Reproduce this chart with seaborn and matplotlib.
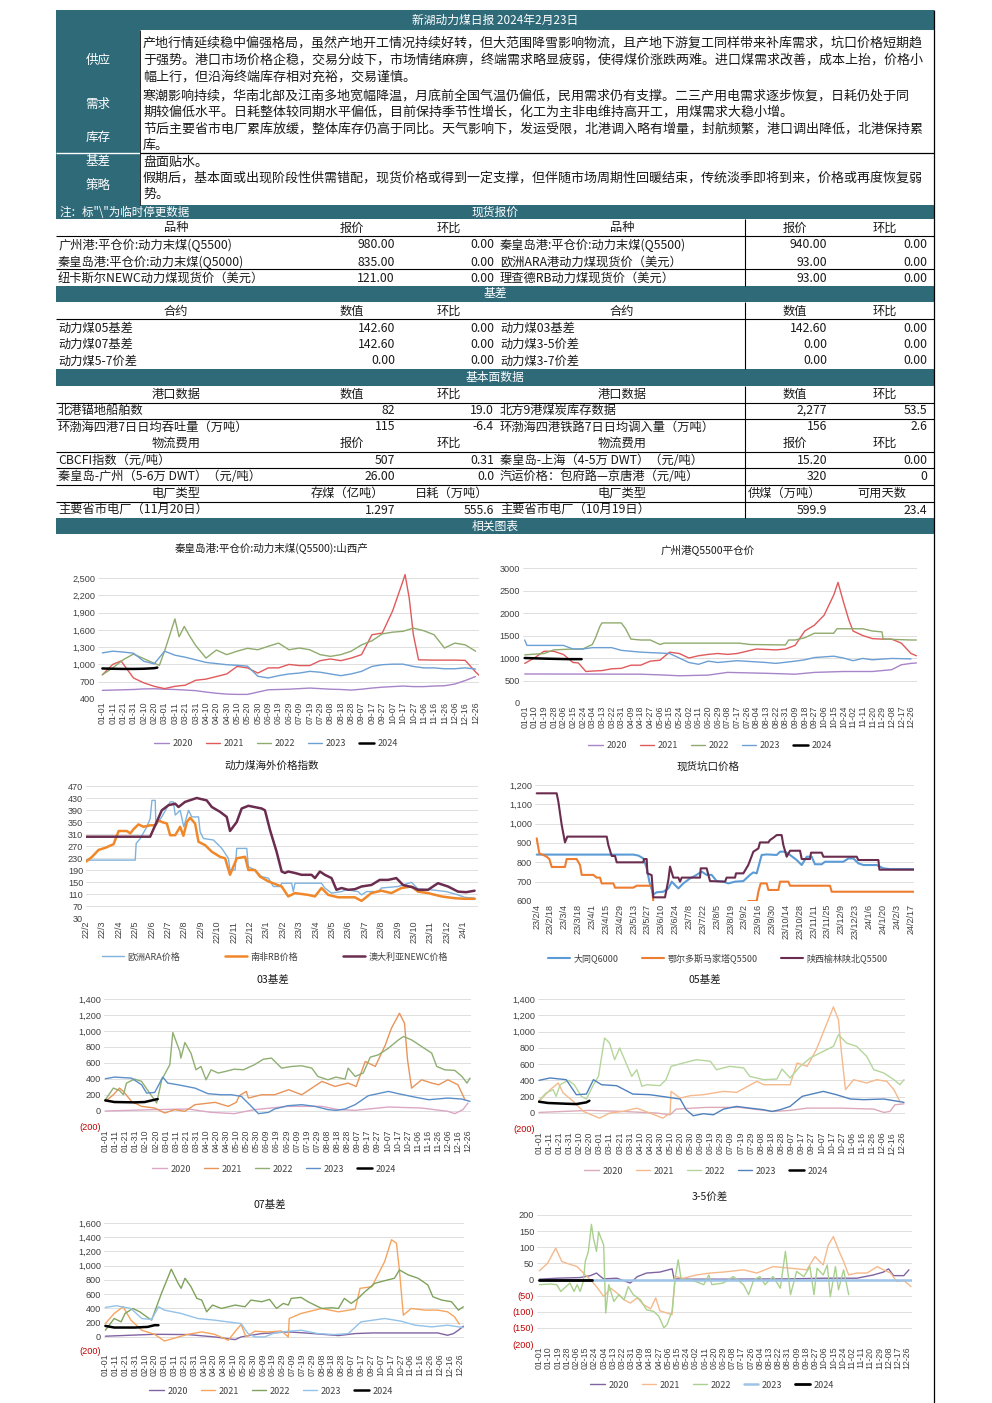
import matplotlib
matplotlib.use('Agg')
import matplotlib.pyplot as plt
import seaborn as sns
import pandas as pd
from matplotlib.lines import Line2D

# ------------------------------------------------------------------ text
report_title = '新湖动力煤日报 2024年2月23日'
side_labels = ['供应', '需求', '库存', '基差', '策略']
para_lines = [
    '产地行情延续稳中偏强格局，虽然产地开工情况持续好转，但大范围降雪影响物流，且产地下游复工同样带来补库需求，坑口价格短期趋',
    '于强势。港口市场价格企稳，交易分歧下，市场情绪麻痹，终端需求略显疲弱，使得煤价涨跌两难。进口煤需求改善，成本上抬，价格小',
    '幅上行，但沿海终端库存相对充裕，交易谨慎。',
    '寒潮影响持续，华南北部及江南多地宽幅降温，月底前全国气温仍偏低，民用需求仍有支撑。二三产用电需求逐步恢复，日耗仍处于同',
    '期较偏低水平。日耗整体较同期水平偏低，目前保持季节性增长，化工为主非电维持高开工，用煤需求大稳小增。',
    '节后主要省市电厂累库放缓，整体库存仍高于同比。天气影响下，发运受限，北港调入略有增量，封航频繁，港口调出降低，北港保持累',
    '库。',
    '盘面贴水。',
    '假期后，基本面或出现阶段性供需错配，现货价格或得到一定支撑，但伴随市场周期性回暖结束，传统淡季即将到来，价格或再度恢复弱',
    '势。',
]
note_text = '注：标"\\"为临时停更数据'
section_titles = ['现货报价', '基差', '基本面数据', '相关图表']

spot_header = ['品种', '报价', '环比', '品种', '报价', '环比']
spot_rows = [
    ['广州港:平仓价:动力末煤(Q5500)', '980.00', '0.00', '秦皇岛港:平仓价:动力末煤(Q5500)', '940.00', '0.00'],
    ['秦皇岛港:平仓价:动力末煤(Q5000)', '835.00', '0.00', '欧洲ARA港动力煤现货价（美元）', '93.00', '0.00'],
    ['纽卡斯尔NEWC动力煤现货价（美元）', '121.00', '0.00', '理查德RB动力煤现货价（美元）', '93.00', '0.00'],
]
basis_header = ['合约', '数值', '环比', '合约', '数值', '环比']
basis_rows = [
    ['动力煤05基差', '142.60', '0.00', '动力煤03基差', '142.60', '0.00'],
    ['动力煤07基差', '142.60', '0.00', '动力煤3-5价差', '0.00', '0.00'],
    ['动力煤5-7价差', '0.00', '0.00', '动力煤3-7价差', '0.00', '0.00'],
]
port_header = ['港口数据', '数值', '环比', '港口数据', '数值', '环比']
port_rows = [
    ['北港锚地船舶数', '82', '19.0', '北方9港煤炭库存数据', '2,277', '53.5'],
    ['环渤海四港7日日均吞吐量（万吨）', '115', '-6.4', '环渤海四港铁路7日日均调入量（万吨）', '156', '2.6'],
]
logi_header = ['物流费用', '报价', '环比', '物流费用', '报价', '环比']
logi_rows = [
    ['CBCFI指数（元/吨）', '507', '0.31', '秦皇岛-上海（4-5万 DWT）（元/吨）', '15.20', '0.00'],
    ['秦皇岛-广州（5-6万 DWT）（元/吨）', '26.00', '0.0', '汽运价格：包府路—京唐港（元/吨）', '320', '0'],
]
plant_header = ['电厂类型', '存煤（亿吨）', '日耗（万吨）', '电厂类型', '供煤（万吨）', '可用天数']
plant_rows = [
    ['主要省市电厂（11月20日）', '1.297', '555.6', '主要省市电厂（10月19日）', '599.9', '23.4'],
]

# ------------------------------------------------------------------ chart titles / legends
chart_titles = ['秦皇岛港:平仓价:动力末煤(Q5500):山西产', '广州港Q5500平仓价', '动力煤海外价格指数',
                '现货坑口价格', '03基差', '05基差', '07基差', '3-5价差']
years = ['2020', '2021', '2022', '2023', '2024']
intl_names = ['欧洲ARA价格', '南非RB价格', '澳大利亚NEWC价格']
mine_names = ['大同Q6000', '鄂尔多斯马家塔Q5500', '陕西榆林陕北Q5500']

# ------------------------------------------------------------------ tick labels
base_leap = pd.Timestamp('2024-01-01')
tick10_days = list(range(0, 361, 10))
tick10_labels = [(base_leap + pd.Timedelta(days=d)).strftime('%m-%d') for d in tick10_days]
tick9_days = list(range(0, 361, 9))
tick9_labels = [(base_leap + pd.Timedelta(days=d)).strftime('%m-%d') for d in tick9_days]
intl_tick_labels = ['22/2', '22/3', '22/4', '22/5', '22/6', '22/7', '22/8', '22/9', '22/10', '22/11', '22/12',
                    '23/1', '23/2', '23/3', '23/4', '23/5', '23/6', '23/7', '23/8', '23/9', '23/10', '23/11',
                    '23/12', '24/1']
intl_tick_pos = list(range(len(intl_tick_labels)))
mine_base = pd.Timestamp('2023-02-04')
mine_tick_days = list(range(0, 379, 14))
mine_tick_labels = [f"{(mine_base + pd.Timedelta(days=d)).year % 100}/{(mine_base + pd.Timedelta(days=d)).month}/"
                    f"{(mine_base + pd.Timedelta(days=d)).day}" for d in mine_tick_days]

# ------------------------------------------------------------------ chart 1: 秦皇岛港 Q5500 (day of year)
c1_2020_d = tick10_days
c1_2020_v = [550, 555, 560, 565, 575, 578, 570, 565, 555, 545, 520, 500, 485, 480, 480, 520, 560, 565, 570, 580,
             590, 580, 570, 565, 555, 570, 590, 605, 615, 625, 615, 615, 625, 630, 660, 720, 790]
c1_2021_d = [0, 10, 18, 30, 40, 50, 60, 70, 80, 90, 100, 110, 120, 130, 140, 150, 160, 170, 180, 190, 200, 210,
             220, 230, 240, 250, 260, 270, 280, 290, 292, 296, 300, 305, 320, 340, 350, 360, 364]
c1_2021_v = [820, 1000, 1060, 765, 680, 620, 580, 620, 640, 725, 745, 790, 835, 965, 940, 850, 940, 940, 1000, 980,
             980, 1065, 1095, 1065, 1110, 1170, 1515, 1545, 1930, 2450, 2560, 2150, 1515, 1080, 1075, 1075, 1070,
             870, 800]
c1_2022_d = [0, 10, 20, 30, 40, 50, 55, 60, 70, 74, 79, 84, 90, 100, 110, 120, 130, 140, 150, 160, 170, 180, 190,
             200, 210, 220, 230, 240, 250, 260, 270, 280, 290, 300, 310, 320, 330, 340, 350, 360]
c1_2022_v = [820, 940, 1080, 1180, 1100, 1020, 985, 1230, 1790, 1480, 1660, 1500, 1330, 1110, 1250, 1170, 1230,
             1280, 1255, 1315, 1370, 1255, 1285, 1255, 1170, 1140, 1170, 1230, 1340, 1410, 1530, 1560, 1575, 1630,
             1585, 1515, 1285, 1370, 1340, 1230]
c1_2023_d = tick10_days
c1_2023_v = [1200, 1230, 1215, 1195, 1055, 1010, 1230, 1160, 1125, 1080, 1035, 1015, 995, 985, 970, 795, 765, 805,
             835, 850, 880, 865, 835, 805, 835, 880, 965, 995, 1005, 1005, 965, 940, 940, 925, 925, 940, 920]
c1_2024_d = [0, 10, 20, 30, 40, 50, 53]
c1_2024_v = [930, 925, 922, 922, 925, 935, 945]

# ------------------------------------------------------------------ chart 2: 广州港 Q5500
c2_2020_d = [0, 108, 126, 144, 171, 189, 225, 252, 270, 297, 324, 342, 351, 360, 365]
c2_2020_v = [645, 640, 625, 605, 620, 680, 660, 640, 680, 700, 700, 740, 850, 880, 890]
c2_2021_d = [0, 9, 18, 27, 36, 45, 50, 57, 63, 72, 81, 90, 99, 108, 117, 126, 135, 144, 153, 162, 171, 180, 189,
             198, 207, 216, 225, 234, 243, 252, 261, 270, 279, 288, 292, 297, 302, 306, 315, 324, 333, 342, 351,
             360, 365]
c2_2021_v = [880, 1000, 1150, 1150, 1080, 900, 890, 700, 710, 720, 760, 770, 840, 840, 930, 950, 1130, 1100, 1000,
             1050, 1080, 1100, 1080, 1100, 1150, 1200, 1190, 1180, 1200, 1280, 1600, 1730, 1950, 2400, 2680, 2250,
             1850, 1600, 1500, 1430, 1420, 1420, 1330, 1100, 1050]
c2_2022_d = [0, 18, 27, 45, 54, 63, 66, 70, 72, 90, 94, 99, 108, 117, 126, 130, 200, 210, 243, 246, 252, 261, 270,
             288, 291, 315, 324, 333, 334, 360, 365]
c2_2022_v = [1070, 1100, 1180, 1200, 1200, 1300, 1450, 1700, 1780, 1780, 1650, 1420, 1400, 1400, 1300, 1330, 1330,
             1300, 1290, 1400, 1400, 1450, 1550, 1550, 1650, 1650, 1600, 1580, 1420, 1400, 1400]
c2_2023_d = [0, 2, 36, 45, 54, 63, 81, 90, 108, 126, 135, 144, 153, 162, 171, 180, 198, 225, 234, 252, 261, 270,
             288, 297, 306, 315, 324, 342, 360]
c2_2023_v = [1400, 1280, 1280, 1200, 1200, 1230, 1230, 1170, 1130, 1110, 1100, 1000, 900, 860, 930, 900, 940, 900,
             880, 930, 960, 1010, 1040, 1000, 940, 990, 960, 990, 980]
c2_2024_d = [0, 20, 40, 53]
c2_2024_v = [1000, 985, 975, 975]

# ------------------------------------------------------------------ chart 3: overseas index (months since 22/2)
ara_m = [0, 3.0, 3.06, 3.31, 3.71, 3.91, 4.02, 4.22, 4.26, 4.62, 5.13, 5.33, 5.44, 5.74, 5.96, 6.25, 6.45, 6.86,
         6.96, 7.16, 7.77, 8.28, 8.68, 8.78, 9.09, 9.19, 9.80, 9.90, 10.30, 10.71, 11.12, 11.42, 11.83, 11.93,
         12.54, 12.64, 12.74, 13.14, 14.36, 14.56, 14.97, 15.58, 15.88, 16.59, 16.80, 17.10, 17.81, 18.01, 19.03,
         19.84, 20.24, 21.05, 21.97, 22.68, 23.08, 23.7]
ara_v = [223, 223, 279, 295, 334, 361, 422, 422, 339, 367, 417, 417, 373, 389, 334, 389, 367, 367, 317, 295, 290,
         262, 229, 190, 190, 262, 262, 201, 190, 168, 163, 135, 135, 146, 146, 118, 146, 146, 146, 130, 113, 118, 124,
         118, 107, 118, 118, 130, 135, 149, 127, 124, 118, 107, 99, 96]
rb_m = [0, 0.37, 0.77, 1.18, 1.68, 1.99, 2.49, 2.70, 2.90, 3.20, 3.51, 3.91, 4.22, 4.42, 4.62, 4.93, 5.13, 5.44,
        5.74, 5.94, 6.15, 6.35, 6.65, 6.86, 7.26, 7.67, 8.17, 8.48, 8.78, 9.19, 9.70, 9.90, 10.30, 10.61, 11.12,
        11.93, 12.33, 12.74, 13.55, 13.96, 14.36, 14.77, 15.38, 16.39, 16.80, 17.40, 18.01, 18.62, 19.23, 19.84,
        20.24, 20.85, 21.66, 22.47, 23.08, 23.7]
rb_v = [218, 234, 257, 264, 276, 320, 320, 312, 326, 342, 334, 339, 339, 356, 350, 345, 306, 306, 334, 304, 350,
        364, 345, 284, 273, 251, 234, 229, 174, 229, 234, 190, 190, 168, 152, 135, 102, 113, 107, 102, 130, 107, 99,
        99, 87, 113, 121, 113, 130, 135, 118, 113, 102, 96, 94, 94]
newc_m = [0, 3.91, 4.22, 4.62, 5.03, 5.44, 5.64, 6.04, 6.75, 7.36, 7.67, 8.17, 8.58, 8.78, 9.19, 9.49, 9.90, 10.71,
          10.91, 11.22, 11.62, 11.93, 12.13, 12.33, 12.74, 13.14, 13.75, 13.96, 14.26, 14.56, 14.97, 15.27, 15.58,
          15.98, 16.39, 16.80, 17.40, 17.91, 18.42, 18.92, 19.33, 19.94, 20.24, 20.85, 21.46, 22.07, 22.68, 23.18,
          23.69]
newc_v = [301, 301, 339, 389, 406, 411, 400, 417, 430, 422, 400, 384, 367, 320, 350, 395, 404, 395, 389, 323, 251,
          185, 180, 185, 180, 174, 174, 163, 185, 174, 163, 124, 130, 124, 126, 135, 140, 157, 157, 163, 140, 132,
          124, 124, 146, 135, 118, 116, 121]

# ------------------------------------------------------------------ chart 4: mine-mouth prices (days since 23/2/4)
dt_d = [0, 97.7, 102.8, 107.8, 111.2, 113.9, 117.9, 121.3, 128.0, 133.1, 136.5, 143.2, 148.2, 155.0, 160.0, 166.8,
        171.8, 176.9, 181.9, 188.7, 193.7, 200.5, 208.9, 215.6, 219.0, 222.4, 227.4, 232.5, 242.6, 246.0, 251.0,
        256.1, 262.8, 267.9, 272.9, 278.0, 281.3, 288.1, 291.4, 310.0, 315.0, 320.1, 325.1, 330.2, 343.7, 350.4,
        357.1, 381.4]
dt_v = [840, 840, 835, 820, 770, 700, 634, 645, 648, 665, 700, 665, 691, 717, 730, 752, 735, 735, 703, 700, 691, 700,
        703, 735, 748, 743, 838, 841, 838, 855, 855, 838, 812, 786, 829, 829, 790, 790, 803, 803, 820, 820, 795, 786,
        786, 769, 765, 765]
ord_d1 = [0, 2.7, 6.7, 10.1, 12.8, 15.2, 28.6, 30.3, 40.4, 43.8, 45.5, 57.3, 60.6, 64.0, 65.7, 77.5, 79.2, 97.7,
          101.1, 116.2, 117.9]
ord_v1 = [924, 846, 838, 829, 817, 776, 776, 817, 817, 786, 735, 735, 721, 721, 691, 691, 669, 669, 679, 679, 600]
ord_d2 = [213.9, 222.4, 224.1, 226.4, 232.5, 234.2, 244.3, 246.0, 254.4, 256.1, 296.5, 298.2, 381.4]
ord_v2 = [600, 600, 648, 691, 691, 657, 657, 700, 700, 679, 679, 648, 648]
sx_d = [0, 20.2, 21.9, 25.3, 28.6, 31.0, 70.8, 72.4, 75.8, 79.2, 80.9, 107.8, 108.5, 111.2, 111.9, 116.2, 117.9,
        129.7, 133.1, 134.8, 138.1, 143.2, 144.9, 146.6, 165.1, 165.8, 171.8, 175.2, 190.4, 192.0, 200.5, 201.5,
        208.9, 213.9, 219.0, 224.1, 225.7, 234.2, 235.8, 239.2, 242.6, 247.6, 249.3, 252.7, 256.1, 266.2, 267.9,
        276.3, 277.3, 288.1, 289.8, 323.5, 325.1, 345.4, 346.4, 381.4]
sx_v = [1157, 1157, 1114, 993, 903, 933, 933, 890, 833, 833, 800, 800, 817, 817, 743, 734, 619, 619, 709, 778, 721,
        721, 700, 721, 721, 769, 769, 703, 700, 721, 721, 743, 743, 786, 855, 872, 903, 903, 915, 927, 941, 941, 890,
        829, 860, 860, 817, 817, 850, 850, 829, 829, 812, 812, 762, 762]

# ------------------------------------------------------------------ chart 5: 03基差
c5_2020_d = [0, 49, 82, 105, 128, 148, 181, 215, 231, 248, 281, 314, 340, 347, 355, 360]
c5_2020_v = [0, 17, 25, -17, -33, 17, 58, 58, 17, 8, 50, 37, -4, -33, 17, 100]
c5_2021_d = [0, 8, 14, 18, 26, 36, 49, 59, 69, 79, 89, 109, 122, 130, 133, 140, 142, 155, 168, 182, 195, 215, 228,
             241, 249, 258, 268, 278, 284, 292, 297, 300, 304, 314, 324, 331, 340, 350, 357]
c5_2021_v = [120, 203, 286, 245, 120, 58, 37, -25, 17, -4, 79, 108, 58, 108, 191, 245, 162, 203, 203, 266, 203, 370,
             307, 349, 307, 619, 557, 827, 1035, 1222, 1097, 640, 286, 390, 349, 328, 390, 328, 141]
c5_2022_d = [0, 8, 14, 18, 21, 29, 36, 44, 51, 56, 64, 67, 74, 75, 79, 85, 90, 95, 100, 105, 112, 119, 128, 137,
             148, 157, 165, 175, 185, 195, 205, 211, 221, 229, 238, 241, 248, 256, 263, 271, 281, 291, 296, 304, 314,
             324, 329, 337, 347, 354, 359, 362]
c5_2022_v = [141, 286, 257, 203, 349, 399, 370, 224, 100, 390, 578, 981, 744, 661, 856, 723, 515, 557, 390, 515, 474,
             494, 523, 515, 578, 648, 661, 536, 557, 565, 536, 432, 390, 424, 399, 536, 432, 474, 673, 702, 785, 889,
             931, 889, 806, 723, 557, 515, 507, 432, 349, 411]
c5_2023_d = [0, 9, 26, 36, 41, 49, 54, 57, 62, 72, 89, 102, 115, 125, 135, 145, 152, 162, 168, 181, 195, 208, 221,
             229, 238, 248, 261, 281, 291, 307, 321, 340, 354, 362]
c5_2023_v = [403, 424, 411, 328, 224, 232, 349, 424, 349, 328, 286, 216, 203, 203, 183, 58, -33, -17, 25, 66, 79, 58,
             17, 8, 25, 79, 191, 245, 216, 174, 141, 162, 149, 120]
c5_2024_d = [0, 9, 29, 39, 49, 52]
c5_2024_v = [133, 112, 108, 112, 141, 149]

# ------------------------------------------------------------------ chart 6: 05基差
c6_2020_d = [0, 50, 83, 117, 130, 136, 166, 199, 232, 249, 266, 299, 332, 342, 348, 353, 362]
c6_2020_v = [4, 29, 16, -4, -25, 45, 66, 66, 16, 29, 57, 57, 45, 4, 16, 98, 110]
c6_2021_d = [0, 11, 19, 24, 34, 44, 60, 70, 83, 97, 110, 123, 130, 131, 140, 150, 163, 183, 196, 216, 223, 239, 249,
             256, 266, 275, 285, 292, 297, 300, 304, 312, 325, 335, 345, 352, 358]
c6_2021_v = [140, 283, 366, 243, 140, 16, -66, -4, 16, 57, -4, -66, -4, 263, 181, 210, 222, 263, 251, 386, 345, 345,
             345, 612, 571, 776, 1084, 1302, 1146, 735, 284, 407, 366, 407, 386, 284, 140]
c6_2022_d = [0, 7, 14, 17, 21, 29, 35, 42, 47, 54, 59, 65, 70, 75, 80, 87, 92, 97, 102, 107, 120, 126, 131, 143, 156,
             170, 176, 189, 203, 209, 223, 236, 241, 249, 259, 269, 282, 292, 297, 305, 315, 325, 332, 342, 352, 358,
             362]
c6_2022_v = [153, 243, 284, 202, 345, 399, 345, 202, 169, 345, 448, 920, 858, 653, 797, 592, 448, 530, 325, 345, 333,
             407, 571, 612, 653, 633, 530, 571, 551, 448, 407, 415, 538, 428, 571, 674, 756, 817, 961, 858, 817, 694,
             530, 489, 407, 345, 407]
c6_2023_d = [0, 11, 27, 37, 47, 54, 62, 77, 93, 110, 126, 140, 146, 153, 163, 173, 183, 196, 209, 223, 231, 239, 249,
             261, 282, 295, 309, 322, 342, 362]
c6_2023_v = [399, 428, 407, 222, 230, 407, 345, 333, 230, 222, 194, 169, 37, -37, -12, -25, 45, 78, 57, 37, 16, 37,
             78, 202, 263, 222, 169, 161, 169, 128]
c6_2024_d = [0, 9, 27, 37, 47, 50]
c6_2024_v = [136, 120, 111, 107, 128, 148]

# ------------------------------------------------------------------ chart 7: 07基差
c7_2020_d = [0, 50, 84, 111, 132, 138, 159, 186, 203, 237, 254, 271, 304, 338, 348, 354, 359, 364]
c7_2020_v = [8, 35, 31, -2, -40, -2, 45, 68, 54, 17, 45, 54, 54, 54, 21, 45, 92, 149]
c7_2021_d = [0, 9, 18, 26, 37, 50, 60, 71, 84, 98, 111, 125, 133, 138, 143, 152, 165, 179, 186, 187, 199, 220, 237,
             254, 259, 271, 284, 291, 296, 299, 303, 311, 325, 338, 348, 355, 360]
c7_2021_v = [186, 328, 422, 234, 92, 35, -59, -16, 35, 68, 35, -49, 92, 172, -2, 78, 68, 82, -2, 257, 328, 398, 351,
             389, 681, 705, 1058, 1364, 1317, 940, 304, 398, 375, 375, 351, 281, 177]
c7_2022_d = [0, 9, 16, 20, 28, 35, 42, 47, 52, 57, 67, 74, 77, 81, 87, 93, 98, 103, 109, 118, 132, 142, 148, 159,
             167, 174, 181, 186, 189, 199, 206, 220, 230, 237, 243, 250, 257, 264, 274, 287, 294, 299, 308, 318, 328,
             333, 342, 352, 359, 364]
c7_2022_v = [92, 257, 210, 328, 398, 351, 281, 234, 422, 610, 950, 752, 681, 823, 705, 540, 516, 351, 446, 398, 446,
             422, 516, 493, 526, 398, 469, 446, 540, 554, 493, 398, 408, 398, 540, 469, 540, 634, 752, 799, 823, 940,
             870, 823, 728, 563, 516, 493, 375, 422]
c7_2023_d = [0, 11, 26, 37, 47, 54, 60, 77, 94, 111, 132, 138, 145, 152, 162, 172, 186, 199, 216, 233, 247, 260, 284,
             301, 315, 332, 348, 364]
c7_2023_v = [413, 436, 398, 257, 243, 422, 375, 328, 257, 234, 196, 186, 45, -2, -2, 54, 78, 92, 45, 31, 45, 210, 257,
             219, 163, 139, 163, 130]
c7_2024_d = [0, 9, 30, 43, 50, 54]
c7_2024_v = [153, 130, 130, 139, 163, 163]

# ------------------------------------------------------------------ chart 8: 3-5价差
c8_2020_d = [0, 17, 40, 50, 56, 60, 63, 76, 89, 96, 105, 118, 130, 132, 148, 180, 246, 278, 311, 327, 337, 342, 347,
             357, 362]
c8_2020_v = [1, 4, 6, 12, 20, 9, 2, 4, -11, 9, 20, 23, 33, 2, 1, 1, 2, 4, 4, 14, 23, 33, 12, 12, 30]
c8_2021_d = [0, 8, 16, 22, 27, 37, 45, 50, 56, 63, 70, 76, 83, 89, 96, 102, 109, 114, 118, 125, 130, 133, 141, 154,
             167, 180, 200, 213, 229, 246, 262, 270, 278, 283, 288, 293, 298, 303, 311, 321, 331, 337, 344, 350, 357,
             364]
c8_2021_v = [27, 50, 97, 56, 50, 40, 14, -1, -22, -53, -27, -42, -63, -73, -57, -78, -91, -57, -97, -104, -109, 9, 4,
             14, 20, 23, 30, 20, 40, 35, 30, 71, 45, 107, 133, 92, 56, 14, 20, 20, 40, 30, 20, -6, -3, -22]
c8_2022_d = [0, 11, 17, 21, 30, 34, 37, 40, 43, 45, 48, 51, 53, 56, 58, 63, 65, 68, 73, 78, 83, 87, 92, 99, 105, 112,
             117, 122, 125, 130, 133, 136, 139, 148, 161, 166, 169, 180, 190, 200, 205, 210, 216, 221, 229, 236, 241,
             246, 252, 259, 265, 269, 272, 278, 282, 285, 290, 293, 298, 303]
c8_2022_v = [-16, -14, -16, -37, -11, -37, -16, -37, -6, 56, 87, 171, 128, 87, 148, 107, -104, -16, -68, -47, -63,
             -22, -47, -63, -94, -99, -114, -150, -140, -99, 4, 61, -2, 0, -16, 14, -16, -11, 9, -16, -47, -1, 9, -16,
             9, -27, 87, -47, 25, 9, 40, -47, 35, 14, 45, -53, 40, -32, 30, -47]
c8_2023_d = [0, 364]
c8_2023_v = [0, 0]
c8_2024_d = [0, 52]
c8_2024_v = [0, 0]

# ------------------------------------------------------------------ figure
sns.set_theme(style='white')
plt.rcParams['font.family'] = ['Noto Sans CJK SC', 'DejaVu Sans']
plt.rcParams['axes.unicode_minus'] = False

W, H = 992, 1403
TEAL = '#2f6a79'
fig = plt.figure(figsize=(W / 100, H / 100), dpi=100)
bg = fig.add_axes([0, 0, 1, 1])
bg.set_xlim(0, W)
bg.set_ylim(H, 0)
bg.axis('off')
CJK = ['Noto Sans CJK SC', 'DejaVu Sans']
NUM = ['Liberation Sans', 'Noto Sans CJK SC', 'DejaVu Sans']


def rect(x0, y0, x1, y1, color):
    bg.add_patch(plt.Rectangle((x0, y0), x1 - x0, y1 - y0, facecolor=color, edgecolor='none', zorder=1))


def hline(y, x0=56, x1=934, color='black', lw=0.8):
    bg.plot([x0, x1], [y, y], color=color, lw=lw, zorder=3, solid_capstyle='butt')


def vline(x, y0, y1, color='black', lw=0.8):
    bg.plot([x, x], [y0, y1], color=color, lw=lw, zorder=3, solid_capstyle='butt')


def txt(x, y, s, ha='left', size=8.8, color='#1a1a1a', family=CJK):
    bg.text(x, y, s, ha=ha, va='center', fontsize=size, color=color, family=family, zorder=4)


# title bar and commentary block
rect(56, 10, 934, 30, TEAL)
txt(495, 20, report_title, ha='center', size=8.5, color='white')
rect(56, 30, 140, 205, TEAL)
hline(153, 56, 140, color='white', lw=1.0)
hline(153, 140, 934, lw=0.9)
vline(140, 30, 205, lw=0.6)
for lab, yy in zip(side_labels, [60, 104, 137, 162, 186]):
    txt(98, yy, lab, ha='center', size=9, color='white')
for line_s, yy in zip(para_lines, [43, 60, 77, 96, 112, 129, 145, 162, 178, 194]):
    txt(143, yy, line_s, size=9.4)

# section bars
rect(56, 205, 934, 219, TEAL)
txt(60, 212, note_text, size=8.3, color='white')
txt(495, 212, section_titles[0], ha='center', size=8.5, color='white')
rect(56, 286, 934, 302, TEAL)
txt(495, 294, section_titles[1], ha='center', size=8.5, color='white')
rect(56, 369, 934, 386, TEAL)
txt(495, 377, section_titles[2], ha='center', size=8.5, color='white')
rect(56, 518, 934, 534, TEAL)
txt(495, 526, section_titles[3], ha='center', size=8.5, color='white')

head_x = [176, 352, 449, 622, 795, 885]


def header_row(y, cells, xs=head_x):
    for c, x in zip(cells, xs):
        txt(x, y, c, ha='center')


def data_row(y, cells):
    txt(58, y, cells[0])
    txt(395, y, cells[1], ha='right')
    txt(494, y, cells[2], ha='right')
    txt(500, y, cells[3])
    txt(827, y, cells[4], ha='right')
    txt(927, y, cells[5], ha='right')


header_row(228, spot_header)
for row, yy in zip(spot_rows, [245, 262, 278]):
    data_row(yy, row)
header_row(311, basis_header)
for row, yy in zip(basis_rows, [328, 344, 361]):
    data_row(yy, row)
header_row(394, port_header)
for row, yy in zip(port_rows, [410, 427]):
    data_row(yy, row)
header_row(443, logi_header)
for row, yy in zip(logi_rows, [460, 477]):
    data_row(yy, row)
header_row(493, plant_header, xs=[176, 347, 452, 622, 785, 882])
for row, yy in zip(plant_rows, [510]):
    data_row(yy, row)

for yy in [236, 269, 319, 403, 419, 452, 468, 485, 502]:
    hline(yy)
vline(745, 219, 286)
vline(745, 302, 369)
vline(745, 386, 518)
vline(934, 10, H, lw=0.9)


# ------------------------------------------------------------------ charts
def make_ax(box):
    l, t, r, b = box
    return fig.add_axes([l / W, 1 - b / H, (r - l) / W, (b - t) / H])


def fmt(v, comma=True, paren=False):
    if paren and v < 0:
        return f'({abs(v):,})'
    return f'{v:,}' if comma else f'{v}'


def style(ax, xlim, ylim, yticks, xticks, xlabels, comma=True, paren=False, xfs=6.3):
    ax.set_xlim(*xlim)
    ax.set_ylim(*ylim)
    ax.set_yticks(yticks)
    ax.set_yticklabels([fmt(v, comma, paren) for v in yticks], fontsize=6.6, color='#404040', family=NUM)
    for lab, v in zip(ax.get_yticklabels(), yticks):
        if v < 0:
            lab.set_color('#c00000')
    ax.set_xticks(xticks)
    ax.set_xticklabels(xlabels, rotation=90, fontsize=xfs, color='#404040', family=NUM)
    ax.tick_params(axis='both', length=0, pad=2)
    ax.yaxis.grid(True, color='#d9d9d9', lw=0.6)
    ax.xaxis.grid(False)
    ax.set_axisbelow(True)
    for s in ax.spines.values():
        s.set_visible(False)
    ax.set_xlabel('')
    ax.set_ylabel('')


def line(ax, d, v, color, lw=1.0):
    sns.lineplot(x=d, y=v, ax=ax, color=color, lw=lw, estimator=None, sort=False, legend=False)


def title(cx, cy, s):
    bg.text(cx, cy, s, ha='center', va='center', fontsize=7.6, color='#1a1a1a', family=CJK, zorder=4)


def legend(cx, cy, names, colors, lws, colsp=1.4, hl=1.6):
    handles = [Line2D([0], [0], color=c, lw=w) for c, w in zip(colors, lws)]
    fig.legend(handles, names, loc='center', bbox_to_anchor=(cx / W, 1 - cy / H), ncol=len(names), frameon=False,
               prop={'size': 6.5, 'family': CJK}, handlelength=hl, handletextpad=0.4, columnspacing=colsp,
               labelcolor='#404040')


yr_lw = [1.0, 1.0, 1.0, 1.0, 1.8]

# chart 1
ax = make_ax((98, 573, 479, 699))
cols1 = ['#a884c9', '#e05a5c', '#8fab6d', '#6c9fd3', 'black']
for (d, v), c, w in zip([(c1_2020_d, c1_2020_v), (c1_2021_d, c1_2021_v), (c1_2022_d, c1_2022_v),
                         (c1_2023_d, c1_2023_v), (c1_2024_d, c1_2024_v)], cols1, yr_lw):
    line(ax, d, v, c, w)
style(ax, (-4.2, 363.3), (400, 2587), list(range(400, 2501, 300)), tick10_days, tick10_labels)
title(272, 548, chart_titles[0])
legend(276, 744, years, cols1, yr_lw)

# chart 2
ax = make_ax((523, 568, 917, 703))
for (d, v), c, w in zip([(c2_2020_d, c2_2020_v), (c2_2021_d, c2_2021_v), (c2_2022_d, c2_2022_v),
                         (c2_2023_d, c2_2023_v), (c2_2024_d, c2_2024_v)], cols1, yr_lw):
    line(ax, d, v, c, w)
style(ax, (-1.6, 365.6), (0, 3000), list(range(0, 3001, 500)), tick9_days, tick9_labels, comma=False)
title(708, 550, chart_titles[1])
legend(710, 746, years, cols1, yr_lw)

# chart 3
ax = make_ax((86, 786, 478, 918))
cols3 = ['#7fb2dd', '#f0882a', '#6b2d4f']
lw3 = [1.0, 1.8, 1.8]
for (d, v), c, w in zip([(ara_m, ara_v), (rb_m, rb_v), (newc_m, newc_v)], cols3, lw3):
    line(ax, d, v, c, w)
style(ax, (0, 23.9), (30, 470), list(range(30, 471, 40)), intl_tick_pos, intl_tick_labels, comma=False, xfs=6.5)
title(272, 766, chart_titles[2])
legend(275, 957, intl_names, cols3, lw3, colsp=5.0, hl=2.4)

# chart 4
ax = make_ax((535, 785, 914, 901))
cols4 = ['#5b9bd5', '#ed7d31', '#6b2d4f']
line(ax, dt_d, dt_v, cols4[0], 1.5)
line(ax, ord_d1, ord_v1, cols4[1], 1.5)
line(ax, ord_d2, ord_v2, cols4[1], 1.5)
line(ax, sx_d, sx_v, cols4[2], 1.5)
style(ax, (-1.7, 381.4), (600, 1200), list(range(600, 1201, 100)), mine_tick_days, mine_tick_labels, xfs=6.5)
title(708, 766, chart_titles[3])
legend(718, 958, mine_names, cols4, [1.5, 1.5, 1.5], colsp=2.6, hl=2.4)

# chart 5
ax = make_ax((104, 999, 471, 1127))
cols5 = ['#dca7c4', '#e8945a', '#8faf72', '#5b8fc9', 'black']
for (d, v), c, w in zip([(c5_2020_d, c5_2020_v), (c5_2021_d, c5_2021_v), (c5_2022_d, c5_2022_v),
                         (c5_2023_d, c5_2023_v), (c5_2024_d, c5_2024_v)], cols5, yr_lw):
    line(ax, d, v, c, w)
style(ax, (-1.3, 363), (-200, 1400), list(range(-200, 1401, 200)), tick10_days, tick10_labels, paren=True)
title(273, 980, chart_titles[4])
legend(274, 1169, years, cols5, yr_lw)

# chart 6
ax = make_ax((538, 999, 905, 1129))
cols6 = ['#dcaab8', '#f5b98c', '#b5d69b', '#4f81bd', 'black']
for (d, v), c, w in zip([(c6_2020_d, c6_2020_v), (c6_2021_d, c6_2021_v), (c6_2022_d, c6_2022_v),
                         (c6_2023_d, c6_2023_v), (c6_2024_d, c6_2024_v)], cols6, yr_lw):
    line(ax, d, v, c, w)
style(ax, (-1.0, 363), (-200, 1400), list(range(-200, 1401, 200)), tick10_days, tick10_labels, paren=True)
title(705, 980, chart_titles[5])
legend(706, 1171, years, cols6, yr_lw)

# chart 7
ax = make_ax((104, 1223, 464, 1351))
cols7 = ['#8064a2', '#f5a55f', '#7fa35c', '#93c2e8', 'black']
for (d, v), c, w in zip([(c7_2020_d, c7_2020_v), (c7_2021_d, c7_2021_v), (c7_2022_d, c7_2022_v),
                         (c7_2023_d, c7_2023_v), (c7_2024_d, c7_2024_v)], cols7, yr_lw):
    line(ax, d, v, c, w)
style(ax, (-1.4, 364.7), (-200, 1600), list(range(-200, 1601, 200)), tick10_days, tick10_labels, paren=True)
title(270, 1205, chart_titles[6])
legend(271, 1391, years, cols7, yr_lw)

# chart 8
ax = make_ax((537, 1215, 912, 1344))
cols8 = ['#8064a2', '#f5b98c', '#a9d18e', '#9dc3e6', 'black']
lw8 = [1.0, 1.0, 1.0, 1.8, 2.0]
for (d, v), c, w in zip([(c8_2020_d, c8_2020_v), (c8_2021_d, c8_2021_v), (c8_2022_d, c8_2022_v),
                         (c8_2023_d, c8_2023_v), (c8_2024_d, c8_2024_v)], cols8, lw8):
    line(ax, d, v, c, w)
style(ax, (-2.3, 365), (-200, 200), list(range(-200, 201, 50)), tick9_days, tick9_labels, paren=True)
title(710, 1198, chart_titles[7])
legend(712, 1385, years, cols8, lw8)

fig.savefig('out.png', dpi=100, facecolor='white')
